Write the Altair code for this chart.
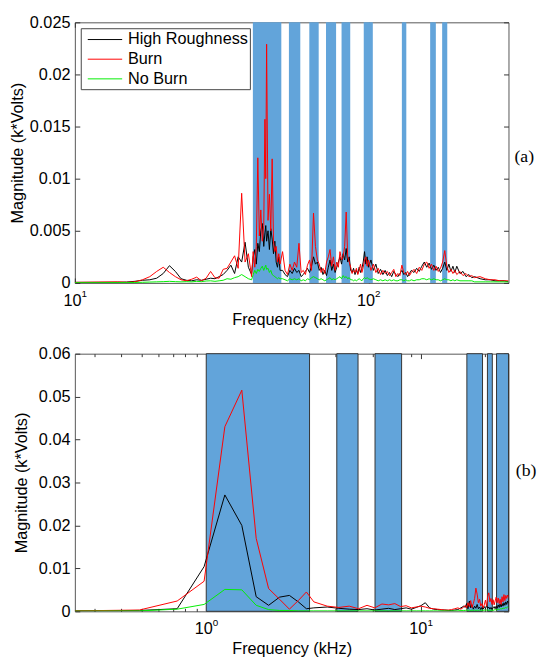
import altair as alt
import pandas as pd

SANS = "Liberation Sans"
SERIF = "Liberation Serif"
BAND = "#62a4da"
FS = 16.5

series_names = ["High Roughness", "Burn", "No Burn"]
series_colors = ["#000000", "#ff0000", "#00ee00"]
panel_labels = ["(a)", "(b)"]

# ---------------- panel (a) ----------------
freq_a = [10, 12, 14, 15, 16, 17, 18, 19, 20, 21, 22, 23, 24, 25, 26, 27, 28, 29, 30,
          31, 32, 33, 34, 35, 36, 37, 38, 39, 40,
          40.5, 41, 41.5, 42, 42.5, 43, 43.5, 44, 44.4, 44.7, 45, 45.5, 46, 46.5, 47,
          47.5, 48, 48.5, 49, 49.5, 50,
          51, 52, 53, 54, 55, 56, 57, 58, 59, 60, 61, 62, 63, 64, 65, 66, 67, 68, 69, 70,
          71, 72, 73, 74, 75, 76, 77, 78, 79, 80, 81, 82, 83, 84, 85, 86, 87, 88, 89, 90,
          91, 92, 93, 94, 95, 96, 97, 98, 99, 100,
          102, 104, 106, 108, 110, 112, 114, 116, 118, 120, 122, 124, 126, 128, 130,
          132, 134, 136, 138, 140,
          143, 146, 149, 152, 155, 158, 161, 164, 167, 170, 173, 176, 179, 182, 185,
          188, 191, 194, 197, 200,
          205, 210, 215, 220, 225, 230, 240, 250, 260, 270, 280, 290, 300]
hr_a = [0.00005, 0.00005, 0.00006, 0.00008, 0.00015, 0.00025, 0.00030, 0.00045, 0.00090, 0.00165,
        0.00110, 0.00040, 0.00025, 0.00020, 0.00030, 0.00025, 0.00035, 0.00045, 0.00040, 0.00060,
        0.00080, 0.00120, 0.00170, 0.00090, 0.00250, 0.00200, 0.00390, 0.00150, 0.00080,
        0.0025, 0.0032, 0.0018, 0.0038, 0.0030, 0.0050, 0.0057, 0.0035, 0.0048, 0.0055, 0.0040,
        0.0050, 0.0032, 0.0052, 0.0042, 0.0028, 0.0040, 0.0020, 0.0015, 0.0025, 0.0012,
        0.0012, 0.0008, 0.0006, 0.0012, 0.0009, 0.0014, 0.0010, 0.0012, 0.0006, 0.0008,
        0.0011, 0.0014, 0.0010, 0.0016, 0.0025, 0.0018, 0.0020, 0.0012, 0.0015, 0.0008,
        0.0012, 0.0007, 0.0015, 0.0022, 0.0012, 0.0018, 0.0010, 0.0015, 0.0020, 0.0025,
        0.0018, 0.0028, 0.0022, 0.0033, 0.0020, 0.0025, 0.0012, 0.0010, 0.0014, 0.0008,
        0.0012, 0.0009, 0.0015, 0.0010, 0.0014, 0.0020, 0.0030, 0.0018, 0.0025, 0.0015,
        0.0022, 0.0012, 0.0018, 0.0009, 0.0013, 0.0008, 0.0012, 0.0007, 0.0010, 0.0006,
        0.0011, 0.0008, 0.0006, 0.0009, 0.0012, 0.0008, 0.0010, 0.0006, 0.0009, 0.0012,
        0.0010, 0.0014, 0.0011, 0.0016, 0.0020, 0.0015, 0.0019, 0.0013, 0.0017, 0.0012,
        0.0015, 0.0010, 0.0014, 0.0020, 0.0012, 0.0018, 0.0011, 0.0016, 0.0010, 0.0016,
        0.0009, 0.0011, 0.0006, 0.0008, 0.0005, 0.0006, 0.0004, 0.0003, 0.0003, 0.0002,
        0.0002, 0.0002, 0.0001]
burn_a = [0.00005, 0.00008, 0.00010, 0.00006, 0.00010, 0.00030, 0.00060, 0.00110, 0.00150, 0.00100,
          0.00060, 0.00030, 0.00020, 0.00035, 0.00055, 0.00020, 0.00045, 0.00110, 0.00050, 0.00045,
          0.00130, 0.00140, 0.00200, 0.00260, 0.00140, 0.00860, 0.00200, 0.00280, 0.00060,
          0.0030, 0.0015, 0.0035, 0.0120, 0.0045, 0.0070, 0.0040, 0.0055, 0.0157, 0.0100, 0.0229,
          0.0060, 0.0085, 0.0050, 0.0119, 0.0040, 0.0030, 0.0035, 0.0020, 0.0028, 0.0018,
          0.0030, 0.0012, 0.0008, 0.0018, 0.0012, 0.0020, 0.0015, 0.0038, 0.0010, 0.0012,
          0.0008, 0.0017, 0.0022, 0.0012, 0.0067, 0.0035, 0.0022, 0.0018, 0.0010, 0.0014,
          0.0009, 0.0020, 0.0025, 0.0032, 0.0016, 0.0025, 0.0012, 0.0020, 0.0015, 0.0030,
          0.0022, 0.0025, 0.0035, 0.0068, 0.0025, 0.0020, 0.0015, 0.0009, 0.0012, 0.0010,
          0.0014, 0.0008, 0.0012, 0.0018, 0.0010, 0.0015, 0.0022, 0.0025, 0.0016, 0.0022,
          0.0012, 0.0018, 0.0010, 0.0014, 0.0008, 0.0012, 0.0009, 0.0011, 0.0007, 0.0010,
          0.0013, 0.0006, 0.0009, 0.0007, 0.0017, 0.0010, 0.0008, 0.0011, 0.0007, 0.0010,
          0.0013, 0.0009, 0.0015, 0.0012, 0.0018, 0.0020, 0.0014, 0.0018, 0.0012, 0.0016,
          0.0011, 0.0014, 0.0020, 0.0031, 0.0016, 0.0010, 0.0013, 0.0009, 0.0012, 0.0008,
          0.0011, 0.0007, 0.0009, 0.0006, 0.0007, 0.0005, 0.0006, 0.0004, 0.0003, 0.0003,
          0.0002, 0.0002, 0.0002]
nb_a = [0.00002, 0.00002, 0.00003, 0.00003, 0.00004, 0.00006, 0.00008, 0.00010, 0.00012, 0.00015,
        0.00012, 0.00010, 0.00012, 0.00010, 0.00015, 0.00012, 0.00018, 0.00020, 0.00015, 0.00020,
        0.00025, 0.00040, 0.00035, 0.00050, 0.00060, 0.00080, 0.00060, 0.00040, 0.00030,
        0.0008, 0.0012, 0.0009, 0.0013, 0.0011, 0.0014, 0.0016, 0.0012, 0.0015, 0.0017, 0.0013,
        0.0014, 0.0010, 0.0012, 0.0008, 0.0007, 0.0006, 0.0005, 0.0004, 0.0005, 0.0004,
        0.0004, 0.0003, 0.0002, 0.0004, 0.0003, 0.0004, 0.0003, 0.0004, 0.0002, 0.0003,
        0.0002, 0.0004, 0.0003, 0.0005, 0.0006, 0.0005, 0.0004, 0.0003, 0.0004, 0.0003,
        0.0002, 0.0003, 0.0004, 0.0005, 0.0003, 0.0004, 0.0003, 0.0004, 0.0005, 0.0006,
        0.0004, 0.0007, 0.0005, 0.0006, 0.0004, 0.0005, 0.0003, 0.0003, 0.0002, 0.0003,
        0.0002, 0.0003, 0.0004, 0.0003, 0.0002, 0.0004, 0.0005, 0.0004, 0.0005, 0.0004,
        0.0003, 0.0004, 0.0003, 0.0002, 0.0003, 0.0002, 0.0003, 0.0002, 0.0003, 0.0002,
        0.0003, 0.0002, 0.0002, 0.0003, 0.0003, 0.0002, 0.0003, 0.0002, 0.0002, 0.0003,
        0.0002, 0.0003, 0.0003, 0.0004, 0.0004, 0.0003, 0.0004, 0.0003, 0.0004, 0.0003,
        0.0003, 0.0002, 0.0003, 0.0004, 0.0003, 0.0003, 0.0002, 0.0003, 0.0002, 0.0003,
        0.0002, 0.0002, 0.0002, 0.0002, 0.0002, 0.0001, 0.0001, 0.0001, 0.0001, 0.0001,
        0.0001, 0.0001, 0.0001]
band_a_start = [40.4, 53.6, 62.9, 71.7, 81.0, 96.4, 130.0, 162.3, 178.3]
band_a_end = [50.5, 58.6, 67.7, 77.6, 86.7, 103.5, 134.6, 169.7, 185.6]
xdom_a = [10, 300]
ydom_a = [0, 0.025]
yticks_a = [0, 0.005, 0.01, 0.015, 0.02, 0.025]
xmajor_a = [10, 100]
xexp_a = ["1", "2"]

# ---------------- panel (b) ----------------
freq_b = [0.244, 0.488, 0.732, 0.977, 1.221, 1.465, 1.709, 1.953, 2.197, 2.441, 2.686, 2.930,
          3.174, 3.662, 4.150, 4.639, 5.127, 5.615, 6.104, 6.592, 7.080, 7.568, 8.057, 8.545,
          9.033, 9.521, 10.010, 10.498, 10.986, 11.475, 11.963, 12.451, 12.939, 13.428, 13.916,
          14.404, 14.893, 15.381, 15.869,
          16.113, 16.357, 16.602, 16.846, 17.090, 17.334, 17.578, 17.822, 18.066, 18.311,
          18.555, 18.799, 19.043, 19.287, 19.531, 19.775, 20.020, 20.264, 20.508, 20.752,
          20.996, 21.240, 21.484, 21.729, 21.973, 22.217, 22.461, 22.705, 22.949, 23.193,
          23.438, 23.682, 23.926, 24.170, 24.414, 24.658, 24.902, 25.146, 25.391, 25.635]
hr_b = [0.0001, 0.0002, 0.0006, 0.0104, 0.0271, 0.0200, 0.0034, 0.0014, 0.0033, 0.0037, 0.0022, 0.0006,
        0.0008, 0.0010, 0.0007, 0.0005, 0.0004, 0.0006, 0.0003, 0.0005, 0.0007, 0.0004, 0.0006, 0.0008,
        0.0005, 0.0009, 0.0013, 0.0020, 0.0008, 0.0005, 0.0004, 0.0003, 0.0003, 0.0002, 0.0002,
        0.0003, 0.0004, 0.0008, 0.0012,
        0.0009, 0.0018, 0.0006, 0.0024, 0.0008, 0.0015, 0.0005, 0.0012, 0.0007, 0.0016,
        0.0006, 0.0010, 0.0004, 0.0009, 0.0005, 0.0011, 0.0006, 0.0014, 0.0007, 0.0010,
        0.0005, 0.0009, 0.0004, 0.0008, 0.0011, 0.0006, 0.0012, 0.0007, 0.0015, 0.0009,
        0.0017, 0.0010, 0.0018, 0.0012, 0.0020, 0.0014, 0.0022, 0.0016, 0.0024, 0.0019]
burn_b = [0.0001, 0.0003, 0.0024, 0.0070, 0.0430, 0.0515, 0.0170, 0.0053, 0.0028, 0.0005, 0.0025, 0.0045,
          0.0022, 0.0012, 0.0009, 0.0012, 0.0006, 0.0014, 0.0008, 0.0017, 0.0015, 0.0018, 0.0011, 0.0013,
          0.0008, 0.0010, 0.0012, 0.0010, 0.0007, 0.0006, 0.0005, 0.0004, 0.0003, 0.0003, 0.0004,
          0.0006, 0.0008, 0.0005, 0.0010,
          0.0014, 0.0008, 0.0020, 0.0011, 0.0025, 0.0009, 0.0018, 0.0030, 0.0054, 0.0040,
          0.0020, 0.0028, 0.0012, 0.0018, 0.0008, 0.0015, 0.0026, 0.0012, 0.0035, 0.0043,
          0.0022, 0.0030, 0.0016, 0.0027, 0.0015, 0.0024, 0.0033, 0.0020, 0.0031, 0.0018,
          0.0028, 0.0016, 0.0034, 0.0022, 0.0039, 0.0025, 0.0037, 0.0030, 0.0038, 0.0032]
nb_b = [0.00005, 0.0001, 0.0005, 0.0016, 0.0051, 0.0050, 0.0014, 0.0004, 0.0002, 0.0002, 0.0001, 0.0001,
        0.0001, 0.0001, 0.0001, 0.0001, 0.0001, 0.0001, 0.0001, 0.0001, 0.0001, 0.0001, 0.0001, 0.0001,
        0.0001, 0.0001, 0.0001, 0.0001, 0.0001, 0.0001, 0.0001, 0.0001, 0.0001, 0.0001, 0.0001,
        0.0001, 0.0001, 0.0002, 0.0002,
        0.0002, 0.0003, 0.0002, 0.0003, 0.0002, 0.0003, 0.0002, 0.0003, 0.0002, 0.0003,
        0.0002, 0.0003, 0.0002, 0.0003, 0.0002, 0.0003, 0.0002, 0.0003, 0.0003, 0.0002,
        0.0003, 0.0002, 0.0003, 0.0002, 0.0003, 0.0004, 0.0003, 0.0004, 0.0005, 0.0004,
        0.0006, 0.0005, 0.0007, 0.0006, 0.0008, 0.0007, 0.0009, 0.0008, 0.0010, 0.0009]
band_b_start = [1.0, 4.06, 6.12, 16.4, 20.45, 22.55]
band_b_end = [3.03, 5.10, 8.14, 19.4, 21.55, 25.635]
xdom_b = [0.2441, 25.635]
ydom_b = [0, 0.06]
yticks_b = [0, 0.01, 0.02, 0.03, 0.04, 0.05, 0.06]
xmajor_b = [1, 10]
xexp_b = ["0", "1"]
xminor_b = [0.3, 0.4, 0.5, 0.6, 0.7, 0.8, 0.9, 2, 3, 4, 5, 6, 7, 8, 9, 20]


def long_table(freq, cols):
    rows = []
    for name, vals in zip(series_names, cols):
        for f, v in zip(freq, vals):
            rows.append({"f": f, "v": v, "s": name})
    return pd.DataFrame(rows)


def panel(freq, cols, bstart, bend, xdom, ydom, yticks, xmajor, xexp, xminor,
          W, H, label, lab_dx, lab_y, ytitle, ytitle_pad, exp_dx, band_stroke, leg_off):
    df = long_table(freq, cols)
    xs = alt.Scale(type="log", domain=xdom, nice=False)
    ys = alt.Scale(domain=ydom, nice=False, zero=False)
    band_df = pd.DataFrame({"a": bstart, "b": bend})

    rect_kw = {"color": BAND, "opacity": 1}
    if band_stroke:
        rect_kw.update({"stroke": band_stroke, "strokeWidth": 1})
    bands = alt.Chart(band_df).mark_rect(**rect_kw).encode(
        x=alt.X("a:Q", scale=xs, axis=alt.Axis(
            orient="bottom", values=xmajor, labelExpr="'10'", tickSize=5, offset=-5,
            labelPadding=10, labelOffset=-3, labelFlush=False, labelOverlap=False,
            title="Frequency (kHz)", titlePadding=3)),
        x2="b:Q",
        y=alt.value(0),
        y2=alt.value(H),
    )

    lines = alt.Chart(df).mark_line(strokeWidth=1, clip=True).encode(
        x=alt.X("f:Q", scale=xs, axis=alt.Axis(
            orient="top", values=xmajor, labels=False, tickSize=5, offset=-5, title=None)),
        y=alt.Y("v:Q", scale=ys, axis=alt.Axis(
            orient="left", values=yticks, format="~g", tickSize=5, offset=-5,
            labelPadding=5, title=ytitle, titlePadding=ytitle_pad)),
        color=alt.Color("s:N", scale=alt.Scale(domain=series_names, range=series_colors),
                        legend=alt.Legend(
                            title=None, orient="top-left", offset=leg_off,
                            symbolType="M-0.5,0H3.5", symbolSize=306, symbolStrokeWidth=1,
                            labelFont=SANS, labelFontSize=FS, labelColor="black",
                            padding=2, rowPadding=2, labelOffset=27,
                            strokeColor="#444", fillColor="white")),
    )

    exp_expr = f"datum.value < {xmajor[0] * 3} ? '{xexp[0]}' : '{xexp[1]}'"
    expo = alt.Chart(df).mark_point(opacity=0, size=1).encode(
        x=alt.X("f:Q", scale=xs, axis=alt.Axis(
            orient="bottom", values=xmajor, labelExpr=exp_expr, tickSize=0, ticks=False,
            labelFontSize=10, labelOffset=exp_dx, labelPadding=6, labelFlush=False,
            labelOverlap=False, title=None)),
        y=alt.Y("v:Q", scale=ys, axis=alt.Axis(
            orient="right", values=yticks, labels=False, tickSize=5, offset=-5, title=None)),
    )

    layers = [bands, lines, expo]
    if xminor:
        for orient in ["bottom", "top"]:
            layers.append(alt.Chart(df).mark_point(opacity=0, size=1).encode(
                x=alt.X("f:Q", scale=xs, axis=alt.Axis(
                    orient=orient, values=xminor, labels=False, tickSize=3, offset=-3,
                    title=None)),
                y=alt.Y("v:Q", scale=ys, axis=None),
            ))
    txt = alt.Chart(pd.DataFrame({"t": [label]})).mark_text(
        font=SERIF, fontSize=18, align="left", baseline="middle", color="black"
    ).encode(x=alt.value(W + lab_dx), y=alt.value(lab_y), text="t:N")
    layers.append(txt)

    return alt.layer(*layers).resolve_axis(x="independent", y="independent").properties(
        width=W, height=H)


pa = panel(freq_a, [hr_a, burn_a, nb_a], band_a_start, band_a_end, xdom_a, ydom_a, yticks_a,
           xmajor_a, xexp_a, None, 441, 265, panel_labels[0], 6, 137,
           "Magnitude (k*Volts)", 4, 9, None, 6)
pb = panel(freq_b, [hr_b, burn_b, nb_b], band_b_start, band_b_end, xdom_b, ydom_b, yticks_b,
           xmajor_b, xexp_b, xminor_b, 441, 262, panel_labels[1], 7.5, 119,
           "Magnitude  (k*Volts)", 9, 9, "#333333", 5)

chart = alt.ConcatChart(concat=[pa, pb], columns=1, align="none", spacing=16,
                        background="white",
                        padding={"left": 1, "top": 0, "right": 0, "bottom": 0}).configure_view(
    stroke="#555555", strokeWidth=1
).configure_axis(
    labelFont=SANS, titleFont=SANS, labelFontSize=FS, titleFontSize=FS,
    titleFontWeight="normal", labelColor="black", titleColor="black",
    tickColor="#333333", domain=False, grid=False, labelFlush=False
)

chart.save("out.html", embed_options={"renderer": "svg", "actions": False})
